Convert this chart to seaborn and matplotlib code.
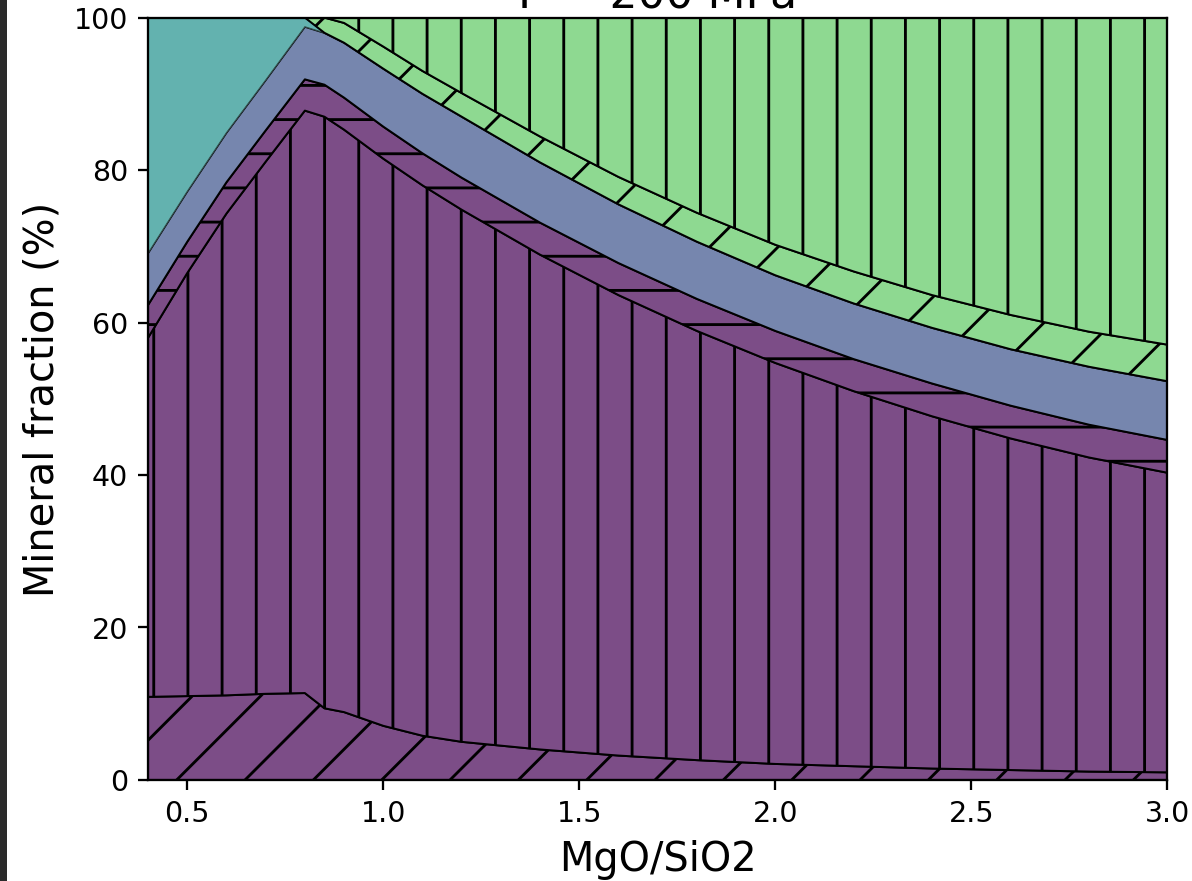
import matplotlib
matplotlib.use("Agg")
import matplotlib.pyplot as plt
import seaborn as sns
import numpy as np
from matplotlib.patches import Rectangle

# ── Data ────────────────────────────────────────────────────────────────────
mgo_sio2 = [0.4, 0.5, 0.6, 0.7, 0.8, 0.85, 0.9, 1.0, 1.1, 1.2,
            1.4, 1.6, 1.8, 2.0, 2.2, 2.4, 2.6, 2.8, 3.0]

purple_diag = [10.9, 11.0, 11.1, 11.3, 11.4, 9.4, 8.9, 7.1, 5.8, 5.0,
               4.0, 3.2, 2.6, 2.1, 1.8, 1.5, 1.3, 1.1, 1.0]
purple_vert = [47.1, 55.5, 63.2, 69.8, 76.4, 77.6, 76.4, 74.4, 72.2, 69.8,
               64.9, 60.4, 56.3, 52.6, 49.2, 46.2, 43.5, 41.2, 39.3]
purple_horiz = [4.3, 4.1, 4.1, 4.1, 4.1, 4.2, 4.2, 4.2, 4.2, 4.2,
                4.2, 4.2, 4.2, 4.2, 4.2, 4.3, 4.3, 4.3, 4.3]
blue_plain = [6.8, 6.6, 6.5, 6.6, 6.9, 6.8, 7.2, 7.6, 7.8, 8.0,
              7.9, 7.7, 7.5, 7.3, 7.3, 7.3, 7.4, 7.6, 7.7]
teal_plain = [30.9, 22.8, 15.1, 8.2, 1.2, 0.0, 0.0, 0.0, 0.0, 0.0,
              0.0, 0.0, 0.0, 0.0, 0.0, 0.0, 0.0, 0.0, 0.0]
green_diag = [0.0, 0.0, 0.0, 0.0, 0.0, 2.0, 2.6, 2.9, 3.0, 3.1,
              3.4, 3.6, 3.8, 4.0, 4.2, 4.3, 4.5, 4.6, 4.8]
green_vert = [0.0, 0.0, 0.0, 0.0, 0.0, 0.0, 0.7, 3.8, 7.0, 9.9,
              15.6, 20.9, 25.6, 29.8, 33.3, 36.4, 39.0, 41.2, 42.9]

layers = [purple_diag, purple_vert, purple_horiz, blue_plain,
          teal_plain, green_diag, green_vert]
hatches = ["/", "|", "-", "", "", "/", "|"]

# ── Style ────────────────────────────────────────────────────────────────────
sns.set_style("ticks", {"axes.edgecolor": "black", "xtick.color": "black",
                        "ytick.color": "black", "text.color": "black",
                        "axes.labelcolor": "black"})
plt.rcParams["font.family"] = ["DejaVu Sans"]
plt.rcParams["hatch.linewidth"] = 1.0

vir = sns.color_palette("viridis", as_cmap=True)


def soften(v, a=0.7):
    """viridis colour blended on white, like alpha=0.7"""
    c = np.array(vir(v)[:3])
    return tuple(a * c + (1 - a))


purple = soften(0.0)
blue = soften(0.25)
teal = soften(0.5)
green = soften(0.75)
colors = [purple, purple, purple, blue, teal, green, green]

# ── Figure ───────────────────────────────────────────────────────────────────
DPI = 205
fig = plt.figure(figsize=(1192.4 / DPI, 881.4 / DPI), dpi=DPI)
ax = fig.add_axes([148 / 1192, 101 / 881, 1019 / 1192, 762 / 881])

polys = ax.stackplot(mgo_sio2, *layers, colors=colors, hatch=hatches,
                     edgecolor="black", linewidth=0.7)
polys[4].set_edgecolor((0.2, 0.3, 0.3))
polys[4].set_linewidth(0.4)

ax.set_xlim(0.4, 3.0)
ax.set_ylim(0, 100)
ax.set_xticks([0.5, 1.0, 1.5, 2.0, 2.5, 3.0])
ax.set_yticks([0, 20, 40, 60, 80, 100])
ax.tick_params(labelsize=10)
ax.set_xlabel("MgO/SiO2", fontsize=14)
ax.set_ylabel("Mineral fraction (%)", fontsize=14)
# title sits mostly above the canvas, as in the cropped reference
ax.set_title("P = 200 MPa", fontsize=15.5, pad=3.5)

# dark screenshot border on the left edge
fig.patches.append(Rectangle((0, 0), 7 / 1192, 1, transform=fig.transFigure,
                             facecolor="#2b2b2b", edgecolor="none"))

fig.savefig("out.png", dpi=DPI)
plt.close(fig)
